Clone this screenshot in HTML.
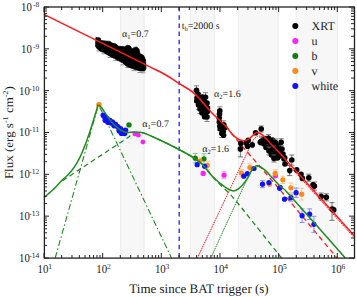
<!DOCTYPE html>
<html><head><meta charset="utf-8">
<style>
html,body{margin:0;padding:0;background:#fff;width:357px;height:297px;overflow:hidden}
svg{position:absolute;left:0;top:0}
text{text-rendering:geometricPrecision}
.t{position:absolute;font-family:"Liberation Serif",serif;color:#222;white-space:nowrap;line-height:1}
sup,sub{font-size:62%;line-height:0;position:relative;vertical-align:baseline}
sup{top:-0.55em}
sub{top:0.3em}
</style></head><body>
<svg width="357" height="297" viewBox="0 0 357 297">
<rect x="120.2" y="7.0" width="24.40" height="251.0" fill="#f7f7f7"/>
<rect x="120.2" y="7.0" width="1" height="251.0" fill="#ececec"/>
<rect x="143.6" y="7.0" width="1" height="251.0" fill="#ececec"/>
<rect x="189.9" y="7.0" width="24.80" height="251.0" fill="#f7f7f7"/>
<rect x="189.9" y="7.0" width="1" height="251.0" fill="#ececec"/>
<rect x="213.7" y="7.0" width="1" height="251.0" fill="#ececec"/>
<rect x="237.9" y="7.0" width="40.70" height="251.0" fill="#f7f7f7"/>
<rect x="237.9" y="7.0" width="1" height="251.0" fill="#ececec"/>
<rect x="277.6" y="7.0" width="1" height="251.0" fill="#ececec"/>
<rect x="295.7" y="7.0" width="42.30" height="251.0" fill="#f7f7f7"/>
<rect x="295.7" y="7.0" width="1" height="251.0" fill="#ececec"/>
<rect x="337.0" y="7.0" width="1" height="251.0" fill="#ececec"/>
<line x1="179.2" y1="7.0" x2="179.2" y2="258.0" stroke="#2020ff" stroke-width="1.3" stroke-dasharray="4.5,3.7"/>
<path d="M55.2,258 L98.5,104.6 L171.5,258" fill="none" stroke="#1e8c1e" stroke-width="1.1" stroke-dasharray="6,2.5,1.5,2.5"/>
<path d="M62.50,180.80 C65.92,178.53 76.08,171.77 83.00,167.20 C89.92,162.63 97.00,158.02 104.00,153.40 C111.00,148.78 120.38,142.60 125.00,139.50 C129.62,136.40 129.70,135.85 131.70,134.80 C133.70,133.75 135.12,133.52 137.00,133.20 C138.88,132.88 140.50,132.35 143.00,132.90 C145.50,133.45 148.83,135.15 152.00,136.50 C155.17,137.85 157.50,138.83 162.00,141.00 C166.50,143.17 173.67,146.67 179.00,149.50 C184.33,152.33 190.00,155.42 194.00,158.00 C198.00,160.58 200.00,162.00 203.00,165.00 C206.00,168.00 209.20,172.80 212.00,176.00 C214.80,179.20 216.27,180.58 219.80,184.20 C223.33,187.82 227.52,191.18 233.20,197.70 C238.88,204.22 245.85,213.25 253.90,223.30 C261.95,233.35 276.90,252.22 281.50,258.00" fill="none" stroke="#1e8c1e" stroke-width="1.3" stroke-dasharray="5,3.5"/>
<path d="M210.80,258.00 C215.23,248.33 230.87,214.12 237.40,200.00 C243.93,185.88 247.07,178.72 250.00,173.30 C252.93,167.88 253.33,168.55 255.00,167.50 C256.67,166.45 258.33,166.50 260.00,167.00 C261.67,167.50 264.17,169.92 265.00,170.50" fill="none" stroke="#1e8c1e" stroke-width="1.0" stroke-dasharray="1.6,0.8"/>
<path d="M197.40,258.00 C205.12,241.67 235.10,178.25 243.70,160.00 C252.30,141.75 247.45,151.75 249.00,148.50 C250.55,145.25 251.65,142.52 253.00,140.50 C254.35,138.48 255.58,136.98 257.10,136.40 C258.62,135.82 259.75,135.33 262.10,137.00 C264.45,138.67 263.22,137.82 271.20,146.40 C279.18,154.98 296.20,173.32 310.00,188.50 C323.80,203.68 346.67,229.33 354.00,237.50" fill="none" stroke="#ff1a1a" stroke-width="1.0" stroke-dasharray="1.6,0.8"/>
<path d="M226.00,126.00 C228.00,128.57 232.75,135.12 238.00,141.40 C243.25,147.68 248.83,153.67 257.50,163.70 C266.17,173.73 276.75,185.88 290.00,201.60 C303.25,217.32 329.17,248.60 337.00,258.00" fill="none" stroke="#ff1a1a" stroke-width="1.3" stroke-dasharray="5,3.5"/>
<path d="M101.5,53.8 h5" stroke="#8a8a8a" stroke-width="0.9"/>
<path d="M107.5,57.5 h5" stroke="#8a8a8a" stroke-width="0.9"/>
<path d="M113.5,60.5 h5" stroke="#8a8a8a" stroke-width="0.9"/>
<path d="M120.5,64.8 h5" stroke="#8a8a8a" stroke-width="0.9"/>
<path d="M125.5,67.5 h5" stroke="#8a8a8a" stroke-width="0.9"/>
<path d="M131.5,70.6 h5" stroke="#8a8a8a" stroke-width="0.9"/>
<path d="M137.5,72.5 h5" stroke="#8a8a8a" stroke-width="0.9"/>
<path d="M140.5,72.8 h5" stroke="#8a8a8a" stroke-width="0.9"/>
<path d="M96.5,51 h5" stroke="#8a8a8a" stroke-width="0.9"/>
<path d="M95.9,37.6 L100.1,37.9 L100.9,40.6 L106.8,41.2 L110.2,41.4 L111.8,43.0 L116.0,44.0 L118.6,46.3 L124.7,46.8 L127.2,45.3 L130.2,45.9 L132.0,49.0 L134.4,47.4 L136.8,47.1 L139.1,49.3 L139.8,53.5 L143.6,55.4 L145.5,59.8 L146.0,68.3 L144.6,71.0 L139.9,70.9 L135.0,69.5 L130.2,67.8 L126.5,66.2 L122.9,63.0 L118.7,60.8 L114.4,58.5 L111.8,57.2 L108.1,55.2 L103.4,52.3 L100.9,51.5 L97.6,49.2 L95.6,46.5Z" fill="#000" stroke="#000" stroke-width="0.8" stroke-linejoin="round"/>
<path d="M196.5,85.8 V94.8 M194.0,85.8 h5 M194.0,94.8 h5" stroke="#777" stroke-width="0.9" fill="none"/>
<path d="M197,93.5 V102.5 M194.5,93.5 h5 M194.5,102.5 h5" stroke="#777" stroke-width="0.9" fill="none"/>
<path d="M199,94.0 V103.0 M196.5,94.0 h5 M196.5,103.0 h5" stroke="#777" stroke-width="0.9" fill="none"/>
<path d="M205.5,92.7 V101.7 M203.0,92.7 h5 M203.0,101.7 h5" stroke="#777" stroke-width="0.9" fill="none"/>
<path d="M204,96.5 V105.5 M201.5,96.5 h5 M201.5,105.5 h5" stroke="#777" stroke-width="0.9" fill="none"/>
<path d="M198.5,100.5 V109.5 M196.0,100.5 h5 M196.0,109.5 h5" stroke="#777" stroke-width="0.9" fill="none"/>
<path d="M206,102.5 V111.5 M203.5,102.5 h5 M203.5,111.5 h5" stroke="#777" stroke-width="0.9" fill="none"/>
<path d="M200,104.5 V113.5 M197.5,104.5 h5 M197.5,113.5 h5" stroke="#777" stroke-width="0.9" fill="none"/>
<path d="M207.5,107.0 V116.0 M205.0,107.0 h5 M205.0,116.0 h5" stroke="#777" stroke-width="0.9" fill="none"/>
<path d="M205.5,109.5 V118.5 M203.0,109.5 h5 M203.0,118.5 h5" stroke="#777" stroke-width="0.9" fill="none"/>
<path d="M207,112.5 V121.5 M204.5,112.5 h5 M204.5,121.5 h5" stroke="#777" stroke-width="0.9" fill="none"/>
<circle cx="196.5" cy="90.3" r="2.8" fill="#000"/>
<circle cx="198" cy="94" r="2.8" fill="#000"/>
<circle cx="197" cy="98" r="2.8" fill="#000"/>
<circle cx="196.8" cy="101" r="2.8" fill="#000"/>
<circle cx="199" cy="98.5" r="2.8" fill="#000"/>
<circle cx="202.5" cy="97" r="2.8" fill="#000"/>
<circle cx="205.5" cy="97.2" r="2.8" fill="#000"/>
<circle cx="200" cy="102" r="2.8" fill="#000"/>
<circle cx="204" cy="101" r="2.8" fill="#000"/>
<circle cx="207" cy="103" r="2.8" fill="#000"/>
<circle cx="198.5" cy="105" r="2.8" fill="#000"/>
<circle cx="202" cy="106" r="2.8" fill="#000"/>
<circle cx="206" cy="107" r="2.8" fill="#000"/>
<circle cx="207.5" cy="108" r="2.8" fill="#000"/>
<circle cx="200" cy="109" r="2.8" fill="#000"/>
<circle cx="204" cy="110" r="2.8" fill="#000"/>
<circle cx="207.5" cy="111.5" r="2.8" fill="#000"/>
<circle cx="202" cy="113" r="2.8" fill="#000"/>
<circle cx="205.5" cy="114" r="2.8" fill="#000"/>
<circle cx="204.5" cy="116.8" r="2.8" fill="#000"/>
<circle cx="207" cy="117" r="2.8" fill="#000"/>
<path d="M219.8,106.8 V114.8 M217.3,106.8 h5 M217.3,114.8 h5" stroke="#777" stroke-width="0.9" fill="none"/>
<path d="M219.2,114 V122 M216.7,114 h5 M216.7,122 h5" stroke="#777" stroke-width="0.9" fill="none"/>
<path d="M219.8,122 V130 M217.3,122 h5 M217.3,130 h5" stroke="#777" stroke-width="0.9" fill="none"/>
<path d="M223.8,120.8 V128.8 M221.3,120.8 h5 M221.3,128.8 h5" stroke="#777" stroke-width="0.9" fill="none"/>
<path d="M223.3,127.5 V135.5 M220.8,127.5 h5 M220.8,135.5 h5" stroke="#777" stroke-width="0.9" fill="none"/>
<path d="M221.8,129.5 V137.5 M219.3,129.5 h5 M219.3,137.5 h5" stroke="#777" stroke-width="0.9" fill="none"/>
<circle cx="219.8" cy="110.8" r="2.8" fill="#000"/>
<circle cx="219.5" cy="114" r="2.8" fill="#000"/>
<circle cx="219.2" cy="118" r="2.8" fill="#000"/>
<circle cx="219.3" cy="122" r="2.8" fill="#000"/>
<circle cx="219.8" cy="126" r="2.8" fill="#000"/>
<circle cx="220.2" cy="129" r="2.8" fill="#000"/>
<circle cx="223.8" cy="124.8" r="2.8" fill="#000"/>
<circle cx="224.6" cy="128" r="2.8" fill="#000"/>
<circle cx="223.3" cy="131.5" r="2.8" fill="#000"/>
<circle cx="223.6" cy="135.2" r="2.8" fill="#000"/>
<circle cx="221.8" cy="133.5" r="2.8" fill="#000"/>
<path d="M261.5,137 V145 M259.0,137 h5 M259.0,145 h5" stroke="#666" stroke-width="0.9" fill="none"/>
<circle cx="261.5" cy="141" r="2.8" fill="#000"/>
<circle cx="265" cy="138.5" r="2.8" fill="#000"/>
<path d="M268.5,134.7 V141.7 M266.0,134.7 h5 M266.0,141.7 h5" stroke="#666" stroke-width="0.9" fill="none"/>
<circle cx="268.5" cy="138.2" r="2.8" fill="#000"/>
<circle cx="264" cy="144" r="2.8" fill="#000"/>
<circle cx="267.5" cy="142" r="2.8" fill="#000"/>
<circle cx="271" cy="141" r="2.8" fill="#000"/>
<circle cx="266" cy="147.5" r="2.8" fill="#000"/>
<circle cx="270" cy="146" r="2.8" fill="#000"/>
<circle cx="273.5" cy="144" r="2.8" fill="#000"/>
<path d="M269,147 V155 M266.5,147 h5 M266.5,155 h5" stroke="#666" stroke-width="0.9" fill="none"/>
<circle cx="269" cy="151" r="2.8" fill="#000"/>
<circle cx="272.5" cy="150" r="2.8" fill="#000"/>
<circle cx="276" cy="148" r="2.8" fill="#000"/>
<circle cx="271.5" cy="155" r="2.8" fill="#000"/>
<circle cx="275" cy="154" r="2.8" fill="#000"/>
<circle cx="278" cy="152.5" r="2.8" fill="#000"/>
<path d="M274,155.0 V162.0 M271.5,155.0 h5 M271.5,162.0 h5" stroke="#666" stroke-width="0.9" fill="none"/>
<circle cx="274" cy="158.5" r="2.8" fill="#000"/>
<circle cx="277.5" cy="158" r="2.8" fill="#000"/>
<circle cx="279.5" cy="156" r="2.8" fill="#000"/>
<circle cx="272.5" cy="140" r="2.8" fill="#000"/>
<path d="M275.5,139.0 V146.0 M273.0,139.0 h5 M273.0,146.0 h5" stroke="#666" stroke-width="0.9" fill="none"/>
<circle cx="275.5" cy="142.5" r="2.8" fill="#000"/>
<circle cx="278.5" cy="145.5" r="2.8" fill="#000"/>
<circle cx="280.5" cy="150" r="2.8" fill="#000"/>
<path d="M332,202.6 V220.3 M329.5,202.6 h5 M329.5,220.3 h5" stroke="#666" stroke-width="0.9" fill="none"/>
<path d="M240.4,140.9 V156.9 M237.9,140.9 h5 M237.9,156.9 h5" stroke="#666" stroke-width="0.9" fill="none"/>
<path d="M261.2,126 V132 M258.7,126 h5 M258.7,132 h5" stroke="#666" stroke-width="0.9" fill="none"/>
<path d="M281.2,138.8 V145.8 M278.7,138.8 h5 M278.7,145.8 h5" stroke="#666" stroke-width="0.9" fill="none"/>
<path d="M291.8,155 V165 M289.3,155 h5 M289.3,165 h5" stroke="#666" stroke-width="0.9" fill="none"/>
<path d="M289.7,165.6 V175.6 M287.2,165.6 h5 M287.2,175.6 h5" stroke="#666" stroke-width="0.9" fill="none"/>
<path d="M308.8,174.2 V181.2 M306.3,174.2 h5 M306.3,181.2 h5" stroke="#666" stroke-width="0.9" fill="none"/>
<path d="M314.4,182.1 V190.1 M311.9,182.1 h5 M311.9,190.1 h5" stroke="#666" stroke-width="0.9" fill="none"/>
<path d="M321.1,193.0 V200.0 M318.6,193.0 h5 M318.6,200.0 h5" stroke="#666" stroke-width="0.9" fill="none"/>
<path d="M326.3,193.8 V200.8 M323.8,193.8 h5 M323.8,200.8 h5" stroke="#666" stroke-width="0.9" fill="none"/>
<circle cx="240.8" cy="143.5" r="2.8" fill="#000"/>
<circle cx="240.4" cy="148.9" r="2.8" fill="#000"/>
<circle cx="246.2" cy="142.9" r="2.8" fill="#000"/>
<circle cx="247.5" cy="146.2" r="2.8" fill="#000"/>
<circle cx="252.2" cy="144.9" r="2.8" fill="#000"/>
<circle cx="248.2" cy="140.2" r="2.8" fill="#000"/>
<circle cx="255.6" cy="132.8" r="2.8" fill="#000"/>
<circle cx="261.2" cy="129" r="2.8" fill="#000"/>
<circle cx="260.3" cy="142.2" r="2.8" fill="#000"/>
<circle cx="281.2" cy="142.3" r="2.8" fill="#000"/>
<circle cx="282" cy="149" r="2.8" fill="#000"/>
<circle cx="283" cy="154" r="2.8" fill="#000"/>
<circle cx="284" cy="159" r="2.8" fill="#000"/>
<circle cx="285" cy="164" r="2.8" fill="#000"/>
<circle cx="284.7" cy="157.9" r="2.8" fill="#000"/>
<circle cx="291.8" cy="160" r="2.8" fill="#000"/>
<circle cx="289.7" cy="170.6" r="2.8" fill="#000"/>
<circle cx="296.7" cy="169.9" r="2.8" fill="#000"/>
<circle cx="301" cy="174.2" r="2.8" fill="#000"/>
<circle cx="302.4" cy="178.4" r="2.8" fill="#000"/>
<circle cx="308.8" cy="177.7" r="2.8" fill="#000"/>
<circle cx="313" cy="184.7" r="2.8" fill="#000"/>
<circle cx="314.4" cy="186.1" r="2.8" fill="#000"/>
<circle cx="321.1" cy="196.5" r="2.8" fill="#000"/>
<circle cx="326.3" cy="197.3" r="2.8" fill="#000"/>
<circle cx="332.2" cy="209.1" r="2.8" fill="#000"/>
<circle cx="333.7" cy="209.9" r="2.8" fill="#000"/>
<circle cx="103.3" cy="115.3" r="2.8" fill="#1010ff"/>
<circle cx="105" cy="117.2" r="2.8" fill="#1010ff"/>
<circle cx="106.8" cy="118.6" r="2.8" fill="#1010ff"/>
<circle cx="109.5" cy="120.4" r="2.8" fill="#1010ff"/>
<circle cx="112.3" cy="122" r="2.8" fill="#1010ff"/>
<circle cx="111" cy="123" r="2.8" fill="#1010ff"/>
<circle cx="115.3" cy="124.3" r="2.8" fill="#1010ff"/>
<circle cx="117.8" cy="126.8" r="2.8" fill="#1010ff"/>
<circle cx="120.4" cy="128.8" r="2.8" fill="#1010ff"/>
<circle cx="122.6" cy="131.3" r="2.8" fill="#1010ff"/>
<circle cx="124.6" cy="133.5" r="2.8" fill="#1010ff"/>
<circle cx="125.5" cy="130.2" r="2.8" fill="#1010ff"/>
<circle cx="119.2" cy="130.8" r="2.8" fill="#1010ff"/>
<circle cx="121.5" cy="133.3" r="2.8" fill="#1010ff"/>
<circle cx="114" cy="125.6" r="2.8" fill="#1010ff"/>
<circle cx="105.3" cy="120.3" r="2.8" fill="#1010ff"/>
<circle cx="108" cy="122.3" r="2.8" fill="#1010ff"/>
<circle cx="99" cy="104.8" r="2.7" fill="#ff8a1a"/>
<circle cx="129" cy="124.9" r="2.7" fill="#108010"/>
<circle cx="134.8" cy="133.9" r="2.4" fill="#ff20ff"/>
<circle cx="138.3" cy="135.2" r="2.4" fill="#ff20ff"/>
<circle cx="142.9" cy="142" r="2.4" fill="#ff20ff"/>
<path d="M195.3,153.39999999999998 V163.0 M192.8,153.39999999999998 h5 M192.8,163.0 h5" stroke="#7cc07c" stroke-width="0.9" fill="none"/>
<path d="M204,153.8 V163.8 M201.5,153.8 h5 M201.5,163.8 h5" stroke="#7cc07c" stroke-width="0.9" fill="none"/>
<path d="M199.9,158 V164 M197.4,158 h5 M197.4,164 h5" stroke="#ffc080" stroke-width="0.9" fill="none"/>
<path d="M207.4,161.3 V169.3 M204.9,161.3 h5 M204.9,169.3 h5" stroke="#ffc080" stroke-width="0.9" fill="none"/>
<path d="M224,171.7 V178.7 M221.5,171.7 h5 M221.5,178.7 h5" stroke="#ff90ff" stroke-width="0.9" fill="none"/>
<path d="M249.9,164.0 V171.0 M247.4,164.0 h5 M247.4,171.0 h5" stroke="#ffc080" stroke-width="0.9" fill="none"/>
<path d="M241.4,169.6 V176.6 M238.9,169.6 h5 M238.9,176.6 h5" stroke="#ffc080" stroke-width="0.9" fill="none"/>
<path d="M275.2,169.9 V176.9 M272.7,169.9 h5 M272.7,176.9 h5" stroke="#ffc080" stroke-width="0.9" fill="none"/>
<path d="M262.5,180.7 V187.7 M260.0,180.7 h5 M260.0,187.7 h5" stroke="#8080ff" stroke-width="0.9" fill="none"/>
<path d="M282.8,176.20000000000002 V183.4 M280.3,176.20000000000002 h5 M280.3,183.4 h5" stroke="#ffc080" stroke-width="0.9" fill="none"/>
<path d="M290.9,183.0 V192.60000000000002 M288.4,183.0 h5 M288.4,192.60000000000002 h5" stroke="#ffc080" stroke-width="0.9" fill="none"/>
<path d="M301.7,188.39999999999998 V200.0 M299.2,188.39999999999998 h5 M299.2,200.0 h5" stroke="#ffc080" stroke-width="0.9" fill="none"/>
<path d="M290.9,194.2 V201.2 M288.4,194.2 h5 M288.4,201.2 h5" stroke="#8080ff" stroke-width="0.9" fill="none"/>
<path d="M296.1,188.0 V197.39999999999998 M293.6,188.0 h5 M293.6,197.39999999999998 h5" stroke="#8080ff" stroke-width="0.9" fill="none"/>
<path d="M302.1,208.89999999999998 V222.5 M299.6,208.89999999999998 h5 M299.6,222.5 h5" stroke="#8080ff" stroke-width="0.9" fill="none"/>
<path d="M309.6,208.89999999999998 V219.5 M307.1,208.89999999999998 h5 M307.1,219.5 h5" stroke="#8080ff" stroke-width="0.9" fill="none"/>
<path d="M313.9,216.3 V232.3 M311.4,216.3 h5 M311.4,232.3 h5" stroke="#8080ff" stroke-width="0.9" fill="none"/>
<circle cx="275.3" cy="175.8" r="2.6" fill="#ff20ff"/>
<circle cx="195.3" cy="158.2" r="2.6" fill="#108010"/>
<circle cx="204" cy="158.8" r="2.6" fill="#108010"/>
<circle cx="199.9" cy="161" r="2.6" fill="#ff8a1a"/>
<circle cx="207.4" cy="165.3" r="2.6" fill="#ff8a1a"/>
<circle cx="197.2" cy="164.7" r="2.6" fill="#1010ff"/>
<circle cx="204.7" cy="166.3" r="2.6" fill="#1010ff"/>
<circle cx="203.1" cy="173.4" r="2.6" fill="#ff20ff"/>
<circle cx="224" cy="175.2" r="2.6" fill="#ff20ff"/>
<circle cx="249.9" cy="167.5" r="2.6" fill="#ff8a1a"/>
<circle cx="241.4" cy="173.1" r="2.6" fill="#ff8a1a"/>
<circle cx="275.2" cy="173.4" r="2.6" fill="#ff8a1a"/>
<circle cx="269.5" cy="184.2" r="2.6" fill="#ff8a1a"/>
<circle cx="243.8" cy="176.2" r="2.6" fill="#1010ff"/>
<circle cx="247.3" cy="173.7" r="2.6" fill="#1010ff"/>
<circle cx="254" cy="168.5" r="2.6" fill="#1010ff"/>
<circle cx="262.5" cy="184.2" r="2.6" fill="#1010ff"/>
<circle cx="268.9" cy="182.6" r="2.6" fill="#1010ff"/>
<circle cx="279.6" cy="188.3" r="2.6" fill="#1010ff"/>
<circle cx="280.2" cy="187.4" r="2.6" fill="#1010ff"/>
<circle cx="282.8" cy="179.8" r="2.6" fill="#ff8a1a"/>
<circle cx="290.9" cy="187.8" r="2.6" fill="#ff8a1a"/>
<circle cx="301.7" cy="194.2" r="2.6" fill="#ff8a1a"/>
<circle cx="284.5" cy="199.2" r="2.6" fill="#1010ff"/>
<circle cx="290.9" cy="197.7" r="2.6" fill="#1010ff"/>
<circle cx="296.1" cy="192.7" r="2.6" fill="#1010ff"/>
<circle cx="302.1" cy="215.7" r="2.6" fill="#1010ff"/>
<circle cx="309.6" cy="214.2" r="2.6" fill="#1010ff"/>
<circle cx="313.9" cy="224.3" r="2.6" fill="#1010ff"/>
<path d="M44.00,197.60 C44.50,197.16 46.00,195.85 47.00,194.97 C48.00,194.10 49.00,193.22 50.00,192.35 C51.00,191.47 52.00,190.67 53.00,189.72 C54.00,188.78 55.00,187.71 56.00,186.68 C57.00,185.65 58.00,184.61 59.00,183.55 C60.00,182.49 61.33,181.01 62.00,180.31 C62.67,179.61 62.67,179.64 63.00,179.34 C63.33,179.04 63.67,178.78 64.00,178.49 C64.33,178.21 64.67,177.91 65.00,177.62 C65.33,177.32 65.67,177.01 66.00,176.70 C66.33,176.39 66.67,176.08 67.00,175.75 C67.33,175.43 67.67,175.10 68.00,174.76 C68.33,174.42 68.67,174.07 69.00,173.72 C69.33,173.36 69.67,172.99 70.00,172.62 C70.33,172.24 70.67,171.85 71.00,171.45 C71.33,171.05 71.67,170.64 72.00,170.22 C72.33,169.80 72.67,169.36 73.00,168.91 C73.33,168.46 73.67,168.00 74.00,167.52 C74.33,167.04 74.67,166.55 75.00,166.04 C75.33,165.53 75.67,165.01 76.00,164.46 C76.33,163.92 76.67,163.36 77.00,162.79 C77.33,162.21 77.67,161.61 78.00,161.00 C78.33,160.39 78.67,159.76 79.00,159.10 C79.33,158.45 79.67,157.78 80.00,157.10 C80.33,156.41 80.67,155.70 81.00,154.97 C81.33,154.25 81.67,153.50 82.00,152.74 C82.33,151.97 82.67,151.19 83.00,150.39 C83.33,149.58 83.67,148.76 84.00,147.93 C84.33,147.09 84.67,146.24 85.00,145.36 C85.33,144.49 85.67,143.60 86.00,142.70 C86.33,141.80 86.67,140.88 87.00,139.94 C87.33,139.01 87.67,138.06 88.00,137.10 C88.33,136.14 88.67,135.16 89.00,134.17 C89.33,133.19 89.67,132.19 90.00,131.18 C90.33,130.17 90.67,129.14 91.00,128.11 C91.33,127.08 91.67,126.04 92.00,124.99 C92.33,123.94 92.67,122.88 93.00,121.81 C93.33,120.74 93.67,119.66 94.00,118.58 C94.33,117.50 94.67,116.41 95.00,115.31 C95.33,114.22 95.67,113.12 96.00,112.01 C96.33,110.90 96.67,109.79 97.00,108.67 C97.33,107.55 97.30,105.55 98.00,105.31 C98.70,105.06 100.20,106.18 101.20,107.20 C102.20,108.22 103.03,110.00 104.00,111.40 C104.97,112.80 106.00,114.15 107.00,115.60 C108.00,117.05 108.55,118.32 110.00,120.10 C111.45,121.88 113.82,124.57 115.70,126.30 C117.58,128.03 119.42,129.48 121.30,130.50 C123.18,131.52 124.88,132.17 127.00,132.40 C129.12,132.63 131.33,131.85 134.00,131.90 C136.67,131.95 140.00,131.93 143.00,132.70 C146.00,133.47 148.83,135.12 152.00,136.50 C155.17,137.88 157.50,138.83 162.00,141.00 C166.50,143.17 173.67,146.67 179.00,149.50 C184.33,152.33 190.00,155.42 194.00,158.00 C198.00,160.58 200.00,162.00 203.00,165.00 C206.00,168.00 208.60,172.52 212.00,176.00 C215.40,179.48 219.98,183.43 223.40,185.90 C226.82,188.37 229.93,190.33 232.50,190.80 C235.07,191.27 236.35,190.68 238.80,188.70 C241.25,186.72 244.87,182.28 247.20,178.90 C249.53,175.52 251.08,170.58 252.80,168.40 C254.52,166.22 255.47,165.50 257.50,165.80 C259.53,166.10 262.42,168.07 265.00,170.20 C267.58,172.33 270.33,175.80 273.00,178.60 C275.67,181.40 278.17,184.18 281.00,187.00 C283.83,189.82 279.28,183.67 290.00,195.50 C300.72,207.33 336.08,247.58 345.30,258.00" fill="none" stroke="#1e8c1e" stroke-width="1.5"/>
<path d="M44.00,14.30 C52.33,18.43 79.67,31.99 94.00,39.10 C108.33,46.21 120.67,52.32 130.00,56.95 C139.33,61.58 144.17,63.98 150.00,66.90 C155.83,69.83 160.17,71.75 165.00,74.50 C169.83,77.25 174.00,80.13 179.00,83.40 C184.00,86.67 189.50,89.17 195.00,94.10 C200.50,99.03 206.95,107.72 212.00,113.00 C217.05,118.28 221.90,122.22 225.30,125.80 C228.70,129.38 230.28,132.30 232.40,134.50 C234.52,136.70 236.40,137.98 238.00,139.00 C239.60,140.02 240.63,140.38 242.00,140.60 C243.37,140.82 244.78,140.80 246.20,140.30 C247.62,139.80 249.28,138.52 250.50,137.60 C251.72,136.68 252.48,135.63 253.50,134.80 C254.52,133.97 255.25,132.68 256.60,132.60 C257.95,132.52 259.33,132.53 261.60,134.30 C263.87,136.07 267.47,140.37 270.20,143.20 C272.93,146.03 271.37,144.08 278.00,151.30 C284.63,158.52 297.33,172.47 310.00,186.50 C322.67,200.53 346.67,227.33 354.00,235.50" fill="none" stroke="#ff1a1a" stroke-width="1.5"/>
<path d="M44.00,258.0 v-5 M44.00,7.0 v5 M61.66,258.0 v-3 M61.66,7.0 v3 M71.99,258.0 v-3 M71.99,7.0 v3 M79.32,258.0 v-3 M79.32,7.0 v3 M85.00,258.0 v-3 M85.00,7.0 v3 M89.65,258.0 v-3 M89.65,7.0 v3 M93.57,258.0 v-3 M93.57,7.0 v3 M96.98,258.0 v-3 M96.98,7.0 v3 M99.98,258.0 v-3 M99.98,7.0 v3 M102.66,258.0 v-5 M102.66,7.0 v5 M120.32,258.0 v-3 M120.32,7.0 v3 M130.65,258.0 v-3 M130.65,7.0 v3 M137.98,258.0 v-3 M137.98,7.0 v3 M143.66,258.0 v-3 M143.66,7.0 v3 M148.31,258.0 v-3 M148.31,7.0 v3 M152.23,258.0 v-3 M152.23,7.0 v3 M155.64,258.0 v-3 M155.64,7.0 v3 M158.64,258.0 v-3 M158.64,7.0 v3 M161.32,258.0 v-5 M161.32,7.0 v5 M178.98,258.0 v-3 M178.98,7.0 v3 M189.31,258.0 v-3 M189.31,7.0 v3 M196.64,258.0 v-3 M196.64,7.0 v3 M202.32,258.0 v-3 M202.32,7.0 v3 M206.97,258.0 v-3 M206.97,7.0 v3 M210.89,258.0 v-3 M210.89,7.0 v3 M214.30,258.0 v-3 M214.30,7.0 v3 M217.30,258.0 v-3 M217.30,7.0 v3 M219.98,258.0 v-5 M219.98,7.0 v5 M237.64,258.0 v-3 M237.64,7.0 v3 M247.97,258.0 v-3 M247.97,7.0 v3 M255.30,258.0 v-3 M255.30,7.0 v3 M260.98,258.0 v-3 M260.98,7.0 v3 M265.63,258.0 v-3 M265.63,7.0 v3 M269.55,258.0 v-3 M269.55,7.0 v3 M272.96,258.0 v-3 M272.96,7.0 v3 M275.96,258.0 v-3 M275.96,7.0 v3 M278.64,258.0 v-5 M278.64,7.0 v5 M296.30,258.0 v-3 M296.30,7.0 v3 M306.63,258.0 v-3 M306.63,7.0 v3 M313.96,258.0 v-3 M313.96,7.0 v3 M319.64,258.0 v-3 M319.64,7.0 v3 M324.29,258.0 v-3 M324.29,7.0 v3 M328.21,258.0 v-3 M328.21,7.0 v3 M331.62,258.0 v-3 M331.62,7.0 v3 M334.62,258.0 v-3 M334.62,7.0 v3 M337.30,258.0 v-5 M337.30,7.0 v5 M44.0,7.00 h5 M354.0,7.00 h-5 M44.0,48.83 h5 M354.0,48.83 h-5 M44.0,36.24 h3 M354.0,36.24 h-3 M44.0,28.87 h3 M354.0,28.87 h-3 M44.0,23.65 h3 M354.0,23.65 h-3 M44.0,19.59 h3 M354.0,19.59 h-3 M44.0,16.28 h3 M354.0,16.28 h-3 M44.0,13.48 h3 M354.0,13.48 h-3 M44.0,11.05 h3 M354.0,11.05 h-3 M44.0,8.91 h3 M354.0,8.91 h-3 M44.0,90.66 h5 M354.0,90.66 h-5 M44.0,78.07 h3 M354.0,78.07 h-3 M44.0,70.70 h3 M354.0,70.70 h-3 M44.0,65.48 h3 M354.0,65.48 h-3 M44.0,61.42 h3 M354.0,61.42 h-3 M44.0,58.11 h3 M354.0,58.11 h-3 M44.0,55.31 h3 M354.0,55.31 h-3 M44.0,52.88 h3 M354.0,52.88 h-3 M44.0,50.74 h3 M354.0,50.74 h-3 M44.0,132.49 h5 M354.0,132.49 h-5 M44.0,119.90 h3 M354.0,119.90 h-3 M44.0,112.53 h3 M354.0,112.53 h-3 M44.0,107.31 h3 M354.0,107.31 h-3 M44.0,103.25 h3 M354.0,103.25 h-3 M44.0,99.94 h3 M354.0,99.94 h-3 M44.0,97.14 h3 M354.0,97.14 h-3 M44.0,94.71 h3 M354.0,94.71 h-3 M44.0,92.57 h3 M354.0,92.57 h-3 M44.0,174.32 h5 M354.0,174.32 h-5 M44.0,161.73 h3 M354.0,161.73 h-3 M44.0,154.36 h3 M354.0,154.36 h-3 M44.0,149.14 h3 M354.0,149.14 h-3 M44.0,145.08 h3 M354.0,145.08 h-3 M44.0,141.77 h3 M354.0,141.77 h-3 M44.0,138.97 h3 M354.0,138.97 h-3 M44.0,136.54 h3 M354.0,136.54 h-3 M44.0,134.40 h3 M354.0,134.40 h-3 M44.0,216.15 h5 M354.0,216.15 h-5 M44.0,203.56 h3 M354.0,203.56 h-3 M44.0,196.19 h3 M354.0,196.19 h-3 M44.0,190.97 h3 M354.0,190.97 h-3 M44.0,186.91 h3 M354.0,186.91 h-3 M44.0,183.60 h3 M354.0,183.60 h-3 M44.0,180.80 h3 M354.0,180.80 h-3 M44.0,178.37 h3 M354.0,178.37 h-3 M44.0,176.23 h3 M354.0,176.23 h-3 M44.0,257.98 h5 M354.0,257.98 h-5 M44.0,245.39 h3 M354.0,245.39 h-3 M44.0,238.02 h3 M354.0,238.02 h-3 M44.0,232.80 h3 M354.0,232.80 h-3 M44.0,228.74 h3 M354.0,228.74 h-3 M44.0,225.43 h3 M354.0,225.43 h-3 M44.0,222.63 h3 M354.0,222.63 h-3 M44.0,220.20 h3 M354.0,220.20 h-3 M44.0,218.06 h3 M354.0,218.06 h-3" stroke="#222" stroke-width="1" fill="none"/>
<rect x="44.4" y="7.0" width="310.1" height="251.1" fill="none" stroke="#222" stroke-width="1.3"/>
<g font-family="Liberation Serif" fill="#1a1a1a">
<text x="39.3" y="6.90" font-size="7.5" text-anchor="end">-8</text>
<text transform="translate(31.9,11.00) scale(0.9,1)" font-size="12" text-anchor="end">10</text>
<text x="39.3" y="48.73" font-size="7.5" text-anchor="end">-9</text>
<text transform="translate(31.9,52.83) scale(0.9,1)" font-size="12" text-anchor="end">10</text>
<text x="39.3" y="90.56" font-size="7.5" text-anchor="end">-10</text>
<text transform="translate(29.9,94.66) scale(0.9,1)" font-size="12" text-anchor="end">10</text>
<text x="39.3" y="132.39" font-size="7.5" text-anchor="end">-11</text>
<text transform="translate(29.9,136.49) scale(0.9,1)" font-size="12" text-anchor="end">10</text>
<text x="39.3" y="174.22" font-size="7.5" text-anchor="end">-12</text>
<text transform="translate(29.9,178.32) scale(0.9,1)" font-size="12" text-anchor="end">10</text>
<text x="39.3" y="216.05" font-size="7.5" text-anchor="end">-13</text>
<text transform="translate(29.9,220.15) scale(0.9,1)" font-size="12" text-anchor="end">10</text>
<text x="39.3" y="257.88" font-size="7.5" text-anchor="end">-14</text>
<text transform="translate(29.9,261.98) scale(0.9,1)" font-size="12" text-anchor="end">10</text>
<text transform="translate(43.00,273) scale(0.9,1)" font-size="12" text-anchor="middle">10</text><text x="48.30" y="268.6" font-size="7.5">1</text>
<text transform="translate(101.66,273) scale(0.9,1)" font-size="12" text-anchor="middle">10</text><text x="106.96" y="268.6" font-size="7.5">2</text>
<text transform="translate(160.32,273) scale(0.9,1)" font-size="12" text-anchor="middle">10</text><text x="165.62" y="268.6" font-size="7.5">3</text>
<text transform="translate(218.98,273) scale(0.9,1)" font-size="12" text-anchor="middle">10</text><text x="224.28" y="268.6" font-size="7.5">4</text>
<text transform="translate(277.64,273) scale(0.9,1)" font-size="12" text-anchor="middle">10</text><text x="282.94" y="268.6" font-size="7.5">5</text>
<text transform="translate(336.30,273) scale(0.9,1)" font-size="12" text-anchor="middle">10</text><text x="341.60" y="268.6" font-size="7.5">6</text>
<text x="199" y="292.9" font-size="13" text-anchor="middle">Time since BAT trigger (s)</text>
<text transform="translate(12.6,132.6) rotate(-90)" font-size="12" text-anchor="middle" textLength="93" lengthAdjust="spacingAndGlyphs">Flux (erg s<tspan font-size="7.5" dy="-4.5">-1</tspan><tspan dy="4.5"> cm</tspan><tspan font-size="7.5" dy="-4.5">-2</tspan><tspan dy="4.5">)</tspan></text>
<circle cx="295.3" cy="26.10" r="3.0" fill="#000"/>
<text x="311.5" y="29.90" font-size="12">XRT</text>
<circle cx="295.3" cy="41.05" r="3.0" fill="#ff20ff"/>
<text x="311.5" y="44.85" font-size="12">u</text>
<circle cx="295.3" cy="56.00" r="3.0" fill="#108010"/>
<text x="311.5" y="59.80" font-size="12">b</text>
<circle cx="295.3" cy="70.95" r="3.0" fill="#ff8a1a"/>
<text x="311.5" y="74.75" font-size="12">v</text>
<circle cx="295.3" cy="85.90" r="3.0" fill="#1010ff"/>
<text x="311.5" y="89.70" font-size="12">white</text>
<text x="122" y="37.1" font-size="10">α<tspan font-size="6.5" dy="2">1</tspan><tspan dy="-2">=0.7</tspan></text>
<text x="214" y="97.1" font-size="10">α<tspan font-size="6.5" dy="2">2</tspan><tspan dy="-2">=1.6</tspan></text>
<text x="142.3" y="127.1" font-size="10">α<tspan font-size="6.5" dy="2">1</tspan><tspan dy="-2">=0.7</tspan></text>
<text x="202.3" y="151.5" font-size="10">α<tspan font-size="6.5" dy="2">2</tspan><tspan dy="-2">=1.6</tspan></text>
<text x="181.7" y="28.5" font-size="10">t<tspan font-size="6.5" dy="2">b</tspan><tspan dy="-2">=2000 s</tspan></text>
</g>
</svg>
</body></html>
